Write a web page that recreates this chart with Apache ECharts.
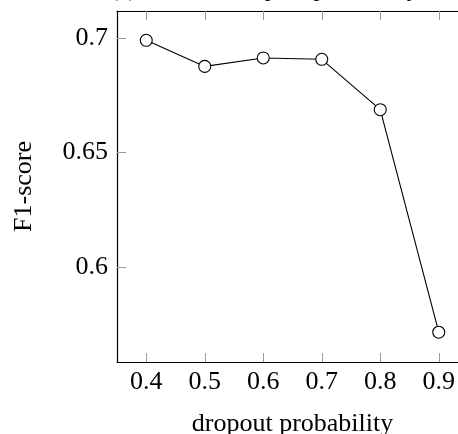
<!DOCTYPE html>
<html>
<head>
<meta charset="utf-8">
<script src="https://cdn.jsdelivr.net/npm/echarts@6/dist/echarts.min.js"></script>
<style>html,body{margin:0;padding:0;background:#fff;overflow:hidden}#c{width:458px;height:434px}</style>
</head>
<body>
<div id="c"></div>
<script>
const dropout = [0.4, 0.5, 0.6, 0.7, 0.8, 0.9];
const f1 = [0.699, 0.6876, 0.6913, 0.6907, 0.6687, 0.5715];
const xTicks = [0.4, 0.5, 0.6, 0.7, 0.8, 0.9];
const yTicks = [0.6, 0.65, 0.7];
const xLabel = 'dropout probability';
const yLabel = 'F1-score';
const titleText = '(a) Effect of dropout probability';

const FONT = 'Liberation Serif';
const chart = echarts.init(document.getElementById('c'), null, {renderer: 'canvas'});
const tickStyle = {show: true, inside: true, length: 9, lineStyle: {color: '#9a9a9a', width: 1}};
const axisLineStyle = {show: true, onZero: false, lineStyle: {color: '#000', width: 1.2}};
const xMin = 0.35, xMax = 0.95, yMin = 0.5585, yMax = 0.7118;

chart.setOption({
  animation: false,
  title: {
    text: titleText, left: 105, top: -27,
    textStyle: {fontFamily: FONT, fontSize: 24, fontWeight: 'normal', color: '#000'}
  },
  grid: {left: 117, top: 11, right: -10, bottom: 72, outerBoundsMode: 'none', containLabel: false},
  xAxis: [{
    type: 'value', min: xMin, max: xMax, position: 'bottom',
    axisLine: axisLineStyle,
    axisTick: Object.assign({customValues: xTicks}, tickStyle),
    axisLabel: {customValues: xTicks, formatter: v => String(Math.round(v * 10) / 10), fontFamily: FONT, fontSize: 26, color: '#000', margin: 7},
    splitLine: {show: false},
    name: xLabel, nameLocation: 'middle', nameGap: 49,
    nameTextStyle: {fontFamily: FONT, fontSize: 26, color: '#000'}
  }, {
    type: 'value', min: xMin, max: xMax, position: 'top',
    axisLine: axisLineStyle,
    axisTick: Object.assign({customValues: xTicks}, tickStyle),
    axisLabel: {show: false}, splitLine: {show: false}
  }],
  yAxis: [{
    type: 'value', min: yMin, max: yMax, position: 'left',
    axisLine: axisLineStyle,
    axisTick: Object.assign({customValues: yTicks}, tickStyle),
    axisLabel: {customValues: yTicks, formatter: v => String(Math.round(v * 100) / 100), fontFamily: FONT, fontSize: 26, color: '#000', margin: 9},
    splitLine: {show: false},
    name: yLabel, nameLocation: 'middle', nameGap: 80, nameRotate: 90,
    nameTextStyle: {fontFamily: FONT, fontSize: 26, color: '#000'}
  }, {
    type: 'value', min: yMin, max: yMax, position: 'right',
    axisLine: {show: false},
    axisTick: Object.assign({customValues: yTicks}, tickStyle),
    axisLabel: {show: false}, splitLine: {show: false}
  }],
  series: [{
    type: 'line',
    data: dropout.map((d, i) => [d, f1[i]]),
    symbol: 'circle', symbolSize: 12,
    itemStyle: {color: '#fff', borderColor: '#000', borderWidth: 1.1},
    lineStyle: {color: '#000', width: 1.1},
    z: 5
  }]
});
</script>
</body>
</html>
